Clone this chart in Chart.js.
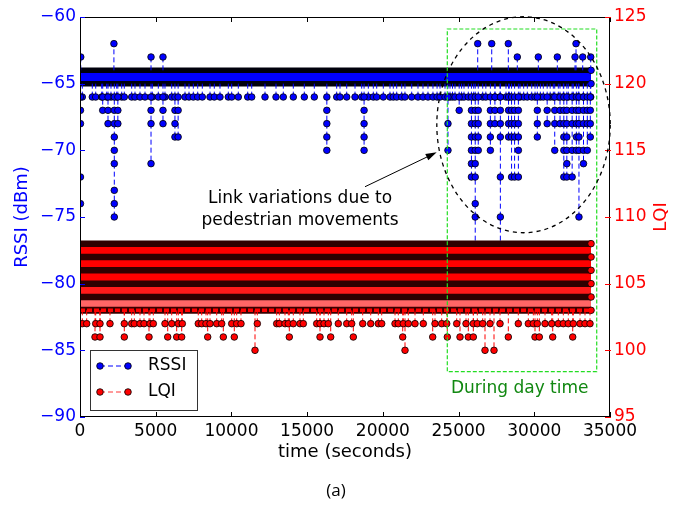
<!DOCTYPE html>
<html>
<head>
<meta charset="utf-8">
<script src="https://cdn.jsdelivr.net/npm/chart.js@4.4.1/dist/chart.umd.min.js"></script>
<style>
  html, body { margin: 0; padding: 0; background: #fff; }
  #wrap { width: 683px; height: 505px; position: relative; }
</style>
</head>
<body>
<div id="wrap"><canvas id="chart"></canvas></div>
<script>
// recording span (seconds)
const timeSpan = [0, 33750]
const timeTicks = [0, 5000, 10000, 15000, 20000, 25000, 30000, 35000]
const rssiTicks = [-90, -85, -80, -75, -70, -65, -60]
const lqiTicks = [95, 100, 105, 110, 115, 120, 125]

// RSSI sits on these two levels nearly all the time
const rssiBandLevels = [-64, -65]
// single samples at -66 dBm
const rssiDropTimes = [152, 812, 1037, 1433, 1763, 2047, 2424, 2754, 2926, 3414, 3632, 3962, 4293, 4775,
  5171, 5613, 6056, 6934, 7199, 7483, 7773, 8077, 8586, 8869, 9245, 9794, 10018, 10454, 11075, 11339,
  12217, 12944, 13426, 14086, 14813, 15473, 16952, 17170, 17613, 18161, 18603, 19040, 19370, 19594,
  20030, 20472, 20690, 20915, 21245, 21460, 21905, 22320, 22650, 22980, 23310, 23580, 23774, 24105,
  24435, 24600, 24765, 25200, 25359, 25643, 26000, 26594, 26800, 27407, 27737, 28133, 28350, 29058,
  29300, 29540, 29831, 30050, 30400, 30596, 31050, 31257, 31587, 31917, 32247, 32577, 32908, 33238, 33727]
// deeper drops: [time, levels visited]
const rssiDips = [
  [30, [-66, -67, -68, -72, -74]],
  [1500, [-66, -67]],
  [1850, [-66, -67, -68]],
  [2265, [-66, -67, -68, -69, -70, -71, -73, -74, -75]],
  [2500, [-66, -67, -68]],
  [4690, [-66, -67, -68, -71]],
  [5480, [-66, -67, -68]],
  [6270, [-66, -67, -68, -69]],
  [6480, [-66, -67, -69]],
  [16300, [-66, -67, -68, -69, -70]],
  [18760, [-66, -67, -68, -69, -70]],
  [24300, [-66, -68, -70]],
  [25040, [-66, -67]],
  [25850, [-66, -67, -68, -69, -70, -71, -72]],
  [26100, [-66, -67, -68, -69, -70, -71, -72, -74, -75, -78]],
  [26300, [-66, -67, -68, -69, -70]],
  [27100, [-66, -67, -68, -69, -70]],
  [27400, [-66, -67, -68]],
  [27760, [-66, -67, -68, -69, -72, -75, -78]],
  [28300, [-66, -67, -68, -69]],
  [28500, [-66, -67, -68, -69, -72]],
  [28700, [-66, -67, -68, -69, -72]],
  [28950, [-66, -67, -68, -69, -70, -72]],
  [30200, [-66, -67, -68, -69]],
  [30850, [-66, -67, -68]],
  [31350, [-66, -67, -68, -70]],
  [31700, [-66, -67, -68]],
  [31950, [-66, -67, -68, -69, -70, -72]],
  [32150, [-66, -67, -68, -69, -70, -71, -72]],
  [32500, [-66, -67, -68, -70, -72]],
  [32780, [-66, -67, -68, -69, -70]],
  [32950, [-66, -67, -68, -69, -70, -75]],
  [33250, [-66, -67, -68, -70, -71]],
  [33500, [-66, -67, -68, -70]],
  [33700, [-66, -67, -68, -69]]
]
// samples above the band: [time, level]
const rssiPeaks = [[50, -63], [2240, -62], [4690, -63], [5480, -63], [26264, -62], [27189, -62],
  [28285, -62], [28879, -63], [30266, -63], [31521, -63], [32690, -63], [32756, -62], [33198, -63], [33727, -63]]

// LQI levels filled densely by the samples
const lqiBandLevels = [108, 107, 106, 105, 104]
const lqiChainLevel = 103
const lqi102Times = [152, 442, 1037, 1321, 1981, 2926, 3414, 3586, 3962, 4227, 4623, 4841, 5613, 6056,
  6492, 6756, 7812, 8037, 8321, 8586, 9027, 9358, 10018, 10348, 10632, 11709, 12990, 13162, 13538,
  13756, 14086, 14528, 14747, 15632, 15850, 16114, 16398, 17058, 17613, 17943, 18669, 19198, 19700,
  19924, 20803, 21020, 21351, 21681, 22123, 22671, 23444, 23887, 24217, 24877, 25491, 25974, 26238,
  26594, 27076, 27737, 28945, 29606, 29936, 30200, 30709, 31151, 31587, 31917, 32247, 32577, 33020,
  33350, 33680]
const lqi101Times = [991, 1321, 2926, 4557, 5792, 6386, 6716, 8433, 9464, 10190, 13822, 15850, 16556,
  18049, 21311, 23292, 24256, 25095, 25643, 25974, 28285, 30048, 30332, 31217, 32538]
const lqi100Times = [11557, 21463, 26746, 27340]

// annotations, in data units
const dayWindow = [24256, 34123, -60.9, -86.6]       // t from, t to, rssi top, rssi bottom
const crowdEllipse = [29289, -68.08, 5726, 8.1]      // centre t, centre rssi, half width (s), half height (dBm)
const noteArrow = [18821, -72.73, 23556, -70.15]     // from t, rssi -> to t, rssi
const noteText = [14529, -73.6, -75.25]              // t, rssi of both lines
const dayText = [29038, -87.9]

const blue = '#0000ff'
const red = '#ff0000'
const markerR = 3.3
const font = 'DejaVu Sans'

const levelLine = (level) => [{ x: timeSpan[0], y: level, hide: true }, { x: timeSpan[1], y: level }]

// each stack starts on the band (no marker there) and steps through the visited levels
function stacks(list, from) {
  const pts = []
  list.forEach(([t, levels]) => {
    pts.push({ x: t, y: from, hide: true })
    levels.forEach(v => pts.push({ x: t, y: v }))
    pts.push({ x: t, y: null })
  })
  return pts
}

function lineSet(data, opts) {
  return Object.assign({
    type: 'line',
    data,
    spanGaps: false,
    tension: 0,
    borderWidth: 1,
    pointRadius: c => (c.raw && c.raw.hide) ? 0 : markerR,
    pointHoverRadius: 0,
    pointBorderWidth: 0.8,
    pointBorderColor: '#000',
    fill: false
  }, opts)
}

const rssiPoints = [
  ...stacks(rssiDropTimes.map(t => [t, [-66]]), rssiBandLevels[1]),
  ...stacks(rssiDips, rssiBandLevels[1]),
  ...stacks(rssiPeaks.map(([t, v]) => [t, [v]]), rssiBandLevels[0])
]
const lqiPoints = [
  ...stacks(lqi102Times.map(t => [t, [102]]), lqiChainLevel),
  ...stacks(lqi101Times.map(t => [t, [101]]), lqiChainLevel),
  ...stacks(lqi100Times.map(t => [t, [100]]), lqiChainLevel)
]

const datasets = [
  // RSSI
  lineSet(levelLine(rssiBandLevels[0]), { label: 'rssi fill', yAxisID: 'y', borderWidth: 0, pointRadius: 0,
    fill: { value: rssiBandLevels[1] }, backgroundColor: blue, order: 9 }),
  ...rssiBandLevels.map(l => lineSet(levelLine(l), { label: 'rssi band', yAxisID: 'y', borderColor: '#00000c',
    borderWidth: 5.5, pointBackgroundColor: blue, order: 8 })),
  lineSet(rssiPoints, { label: 'RSSI', yAxisID: 'y', borderColor: blue, borderDash: [5, 3],
    pointBackgroundColor: blue, order: 7 }),
  // LQI
  lineSet(levelLine(lqiBandLevels[0]), { label: 'lqi fill', yAxisID: 'y2', borderWidth: 0, pointRadius: 0,
    fill: { value: lqiBandLevels[3] }, backgroundColor: red, order: 6 }),
  lineSet(levelLine(lqiBandLevels[3]), { label: 'lqi fill', yAxisID: 'y2', borderWidth: 0, pointRadius: 0,
    fill: { value: lqiBandLevels[4] }, backgroundColor: '#ff1a1a', order: 6 }),
  lineSet(levelLine(lqiBandLevels[4]), { label: 'lqi fill', yAxisID: 'y2', borderWidth: 0, pointRadius: 0,
    fill: { value: lqiChainLevel }, backgroundColor: 'rgba(255,0,0,0.6)', order: 6 }),
  ...lqiBandLevels.map(l => lineSet(levelLine(l), { label: 'lqi band', yAxisID: 'y2', borderColor: '#2e0000',
    borderWidth: 6.5, pointBackgroundColor: red, order: 5 })),
  lineSet(levelLine(lqiChainLevel), { label: 'lqi chain', yAxisID: 'y2', borderColor: '#3a0000',
    borderWidth: 7, pointBackgroundColor: red, order: 5 }),
  lineSet(levelLine(lqiChainLevel), { label: 'lqi chain', yAxisID: 'y2', borderColor: red,
    borderWidth: 3.5, borderDash: [5, 2], pointRadius: 0, order: 4 }),
  lineSet(lqiPoints, { label: 'LQI', yAxisID: 'y2', borderColor: red, borderDash: [5, 3],
    pointBackgroundColor: red, order: 3 })
]

const minus = v => v < 0 ? '\u2212' + Math.abs(v) : String(v)

function axis(ticks, min, max, color, position, fit) {
  return {
    type: 'linear',
    position,
    min,
    max,
    afterBuildTicks: s => { s.ticks = ticks.map(v => ({ value: v })) },
    afterFit: fit,
    grid: { display: false, drawTicks: false },
    border: { display: false },
    ticks: { color, font: { family: font, size: 17 }, padding: 4, callback: minus, autoSkip: false, maxRotation: 0 }
  }
}

function drawMarker(ctx, x, y, fill) {
  ctx.beginPath()
  ctx.arc(x, y, markerR, 0, Math.PI * 2)
  ctx.fillStyle = fill
  ctx.fill()
  ctx.lineWidth = 0.8
  ctx.strokeStyle = '#000'
  ctx.stroke()
}

const decorations = {
  id: 'decorations',
  afterDraw(chart) {
    const { ctx, chartArea: a, scales } = chart
    const xs = scales.x, yl = scales.y, yr = scales.y2
    ctx.save()

    // frame
    ctx.strokeStyle = '#000'
    ctx.lineWidth = 1
    ctx.setLineDash([])
    ctx.strokeRect(a.left + 0.5, a.top + 0.5, a.right - a.left - 1, a.bottom - a.top - 1)

    // inward tick marks
    const tick = (x1, y1, x2, y2, c) => {
      ctx.strokeStyle = c
      ctx.beginPath(); ctx.moveTo(x1, y1); ctx.lineTo(x2, y2); ctx.stroke()
    }
    timeTicks.forEach(v => {
      const x = Math.round(xs.getPixelForValue(v)) + 0.5
      tick(x, a.bottom, x, a.bottom - 5, '#000')
      tick(x, a.top, x, a.top + 5, '#000')
    })
    rssiTicks.forEach(v => {
      const y = Math.round(yl.getPixelForValue(v)) + 0.5
      tick(a.left, y, a.left + 5, y, blue)
    })
    lqiTicks.forEach(v => {
      const y = Math.round(yr.getPixelForValue(v)) + 0.5
      tick(a.right - 5, y, a.right + 1, y, red)
    })

    // day-time window
    ctx.strokeStyle = '#22dd22'
    ctx.lineWidth = 1.2
    ctx.setLineDash([4, 2])
    const rx0 = xs.getPixelForValue(dayWindow[0]), rx1 = xs.getPixelForValue(dayWindow[1])
    const ry0 = yl.getPixelForValue(dayWindow[2]), ry1 = yl.getPixelForValue(dayWindow[3])
    ctx.strokeRect(rx0, ry0, rx1 - rx0, ry1 - ry0)

    // ellipse around the busy period
    const ecx = xs.getPixelForValue(crowdEllipse[0]), ecy = yl.getPixelForValue(crowdEllipse[1])
    const erx = xs.getPixelForValue(crowdEllipse[0] + crowdEllipse[2]) - ecx
    const ery = yl.getPixelForValue(crowdEllipse[1] - crowdEllipse[3]) - ecy
    ctx.strokeStyle = '#000'
    ctx.lineWidth = 1.3
    ctx.setLineDash([4, 4])
    ctx.beginPath()
    ctx.ellipse(ecx, ecy, erx, ery, 0, 0, Math.PI * 2)
    ctx.stroke()

    // arrow
    ctx.setLineDash([])
    const ax0 = xs.getPixelForValue(noteArrow[0]), ay0 = yl.getPixelForValue(noteArrow[1])
    const ax1 = xs.getPixelForValue(noteArrow[2]), ay1 = yl.getPixelForValue(noteArrow[3])
    const ang = Math.atan2(ay1 - ay0, ax1 - ax0)
    ctx.lineWidth = 1
    ctx.beginPath(); ctx.moveTo(ax0, ay0); ctx.lineTo(ax1 - 8 * Math.cos(ang), ay1 - 8 * Math.sin(ang)); ctx.stroke()
    ctx.fillStyle = '#000'
    ctx.beginPath()
    ctx.moveTo(ax1, ay1)
    ctx.lineTo(ax1 - 11 * Math.cos(ang) + 3.5 * Math.sin(ang), ay1 - 11 * Math.sin(ang) - 3.5 * Math.cos(ang))
    ctx.lineTo(ax1 - 11 * Math.cos(ang) - 3.5 * Math.sin(ang), ay1 - 11 * Math.sin(ang) + 3.5 * Math.cos(ang))
    ctx.closePath()
    ctx.fill()

    // texts
    ctx.font = `17px "${font}"`
    ctx.textAlign = 'center'
    ctx.textBaseline = 'middle'
    ctx.fillStyle = '#000'
    const tx = xs.getPixelForValue(noteText[0])
    ctx.fillText('Link variations due to', tx, yl.getPixelForValue(noteText[1]))
    ctx.fillText('pedestrian movements', tx, yl.getPixelForValue(noteText[2]))
    ctx.fillStyle = '#118811'
    ctx.fillText('During day time', xs.getPixelForValue(dayText[0]), yl.getPixelForValue(dayText[1]))

    // axis titles
    ctx.font = `18px "${font}"`
    ctx.fillStyle = '#000'
    ctx.fillText('time (seconds)', (a.left + a.right) / 2, 452)
    const mid = (a.top + a.bottom) / 2
    ctx.save()
    ctx.translate(22, mid); ctx.rotate(-Math.PI / 2)
    ctx.fillStyle = blue
    ctx.fillText('RSSI (dBm)', 0, 0)
    ctx.restore()
    ctx.save()
    ctx.translate(661, mid); ctx.rotate(-Math.PI / 2)
    ctx.fillStyle = red
    ctx.fillText('LQI', 0, 0)
    ctx.restore()
    ctx.font = '17px "Open Sans"'
    ctx.fillStyle = '#000'
    ctx.fillText('(a)', 336, 491)

    // legend
    const lx = a.left + 10, ly = a.bottom - 67
    ctx.fillStyle = '#fff'
    ctx.fillRect(lx, ly, 107, 60)
    ctx.strokeStyle = '#333'
    ctx.lineWidth = 1
    ctx.strokeRect(lx + 0.5, ly + 0.5, 107, 60)
    ;[['RSSI', blue, 16], ['LQI', red, 42]].forEach(([name, c, dy]) => {
      const y = ly + dy
      ctx.strokeStyle = c
      ctx.setLineDash([5, 3])
      ctx.beginPath(); ctx.moveTo(lx + 10, y); ctx.lineTo(lx + 38, y); ctx.stroke()
      ctx.setLineDash([])
      drawMarker(ctx, lx + 10, y, c)
      drawMarker(ctx, lx + 38, y, c)
      ctx.fillStyle = '#000'
      ctx.font = `17px "${font}"`
      ctx.textAlign = 'left'
      ctx.fillText(name, lx + 58, y)
    })

    ctx.restore()
  }
}

const xAxis = axis(timeTicks, 0, 35000, '#000', 'bottom', s => { s.height = 88 })
xAxis.ticks.callback = v => String(v)

new Chart(document.getElementById('chart'), {
  data: { datasets },
  options: {
    animation: false,
    responsive: true,
    maintainAspectRatio: false,
    devicePixelRatio: 1,
    events: [],
    layout: { padding: { top: 17, left: 0, right: 0, bottom: 0 } },
    scales: {
      x: xAxis,
      y: axis(rssiTicks, -90, -60, blue, 'left', s => { s.width = 80 }),
      y2: axis(lqiTicks, 95, 125, red, 'right', s => { s.width = 73 })
    },
    plugins: {
      legend: { display: false },
      tooltip: { enabled: false }
    }
  },
  plugins: [decorations]
})
</script>
</body>
</html>
